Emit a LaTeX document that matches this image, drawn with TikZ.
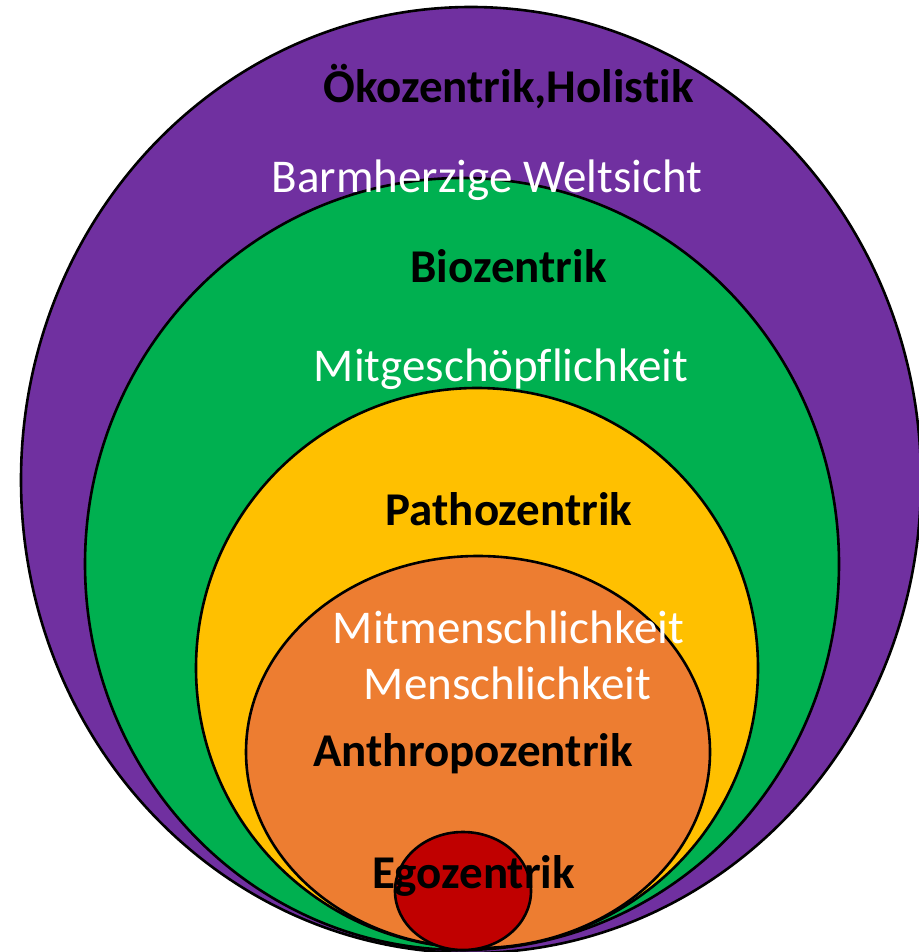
\documentclass[tikz,border=0pt]{standalone}
\usepackage{fontspec}
\setmainfont[Ligatures=CommonOff]{Carlito}

\definecolor{oeko}{HTML}{7030A0}
\definecolor{bio}{HTML}{00B050}
\definecolor{patho}{HTML}{FFC000}
\definecolor{anthro}{HTML}{ED7D31}
\definecolor{ego}{HTML}{C00000}

\tikzset{
  ring/.style={draw=black, line width=2.6pt},
  head/.style={anchor=base, text=black, font=\fontsize{47}{56}\selectfont\bfseries, inner sep=0pt},
  sub/.style={anchor=base, text=white, font=\fontsize{47}{56}\selectfont, inner sep=0pt}
}

\begin{document}
\begin{tikzpicture}[x=1pt, y=-1pt]
\useasboundingbox (0,0) rectangle (918,952);

% nested circles, outermost first
\foreach \cx/\cy/\rx/\ry/\col in {
    471/480/450/473/oeko,
    462/564/377/386/bio,
    477/668/281/280/patho,
    478/752/232/196/anthro,
    463/891/68/59/ego}
  \draw [ring, fill=\col] (\cx,\cy) ellipse [x radius=\rx, y radius=\ry];

\node [head] (oekotitel)  at (508.5,103) {Ökozentrik,Holistik};
\node [sub]  (oekotext)   at (487,193)   {Barmherzige Weltsicht};
\node [head] (biotitel)   at (508.5,282) {Biozentrik};
\node [sub]  (biotext)    at (501,381)   {Mitgeschöpflichkeit};
\node [head] (pathotitel) at (509,525)   {Pathozentrik};
\node [sub]  (anthrotext) at (508.5,643) {Mitmenschlichkeit};
\node [sub]  (menschtext) at (507.5,699) {Menschlichkeit};
\node [head] (anthrotitel) at (473,766)  {Anthropozentrik};
\node [head] (egotitel)   at (473.5,888) {Egozentrik};
\end{tikzpicture}
\end{document}
